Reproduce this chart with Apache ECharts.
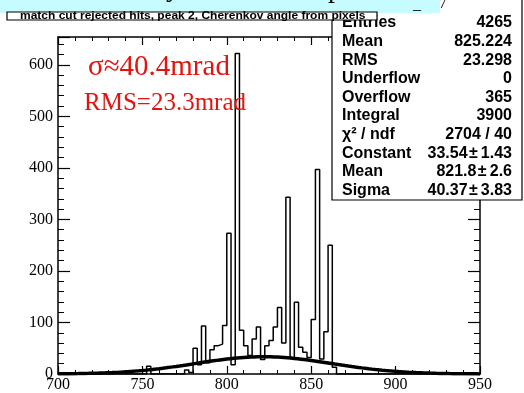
<!DOCTYPE html>
<html><head><meta charset="utf-8">
<script src="https://cdn.jsdelivr.net/npm/echarts@6/dist/echarts.min.js"></script>
<style>html,body{margin:0;padding:0;background:#fff}#c{width:524px;height:393px}</style>
</head><body><div id="c"></div>
<script>
// Histogram: lower edges of non-empty bins (bin width 2.5 mrad) and their counts
const binWidth = 2.5;
const binStarts = [752.5, 775, 777.5, 780, 782.5, 785, 787.5, 790, 792.5, 795, 797.5, 800, 802.5, 805, 807.5, 810, 812.5, 815, 817.5, 820, 822.5, 825, 827.5, 830, 832.5, 835, 837.5, 840, 842.5, 845, 847.5, 850, 852.5, 855, 857.5, 860, 862.5];
const counts    = [15,    8,   3,     50,  18,    93,  22,    47,  55,    58,  94,    273, 18,    622, 85,    55,  36,    68,  91,    28,  55,    65,  91,    129, 60,    343, 30,    139, 52,    42,  32,    106, 397,   29,  82,    250, 13];
// Axis ticks
const xTickLabels = [700, 750, 800, 850, 900, 950];
const yTickLabels = [0, 100, 200, 300, 400, 500, 600];
const yMax = 654;
// Gaussian fit parameters (from the stats box)
const fitConstant = 33.54, fitMean = 821.8, fitSigma = 40.37;
// Stats box
const statNames  = ['Entries', 'Mean', 'RMS', 'Underflow', 'Overflow', 'Integral', 'χ² / ndf', 'Constant', 'Mean', 'Sigma'];
const statValues = ['4265', '825.224', '23.298', '0', '365', '3900', '2704 / 40', '33.54\u200a±\u20091.43', '821.8\u200a±\u20092.6', '40.37\u200a±\u20093.83'];
const noteSigma = 'σ≈40.4mrad';
const noteRms = 'RMS=23.3mrad';
const subtitle = 'match cut rejected hits, peak 2, Cherenkov angle from pixels';

const xMin = xTickLabels[0], xMax = xTickLabels[xTickLabels.length - 1];
const nBins = Math.round((xMax - xMin) / binWidth);
const full = new Array(nBins).fill(0);
binStarts.forEach((s, i) => { full[Math.round((s - xMin) / binWidth)] = counts[i]; });
const histData = full.map((v, i) => [xMin + i * binWidth, v]);
histData.push([xMax, 0]);

const gaussData = [];
for (let x = xMin; x <= xMax; x += 1) {
  gaussData.push([x, fitConstant * Math.exp(-0.5 * Math.pow((x - fitMean) / fitSigma, 2))]);
}

const axisCommon = {
  type: 'value', min: xMin, max: xMax, interval: 50,
  axisLine: { onZero: false, lineStyle: { color: '#000', width: 1.5 } },
  axisTick: { inside: true, length: 8, lineStyle: { color: '#000', width: 1.2 } },
  minorTick: { show: true, splitNumber: 5, length: 4, lineStyle: { color: '#000', width: 1 } },
  splitLine: { show: false }, minorSplitLine: { show: false }
};
const yCommon = {
  type: 'value', min: 0, max: yMax, interval: 100,
  axisLine: { onZero: false, lineStyle: { color: '#000', width: 1.5 } },
  axisTick: { inside: true, length: 12, lineStyle: { color: '#000', width: 1.2 } },
  minorTick: { show: true, splitNumber: 5, length: 6, lineStyle: { color: '#000', width: 1 } },
  splitLine: { show: false }, minorSplitLine: { show: false }
};
const labelFont = { color: '#000', fontFamily: 'Liberation Serif', fontSize: 16 };

const graphics = [];
// title boxes
graphics.push({ type: 'rect', z: 100, shape: { x: 0, y: -2, width: 440, height: 15 }, style: { fill: '#c6fcff' } });
graphics.push({ type: 'text', z: 101, x: 166, y: 3, style: { text: 'y', font: '28px "Liberation Serif"', fill: '#000', textVerticalAlign: 'bottom' } });
graphics.push({ type: 'text', z: 101, x: 328, y: 4, style: { text: 'p', font: '28px "Liberation Serif"', fill: '#000', textVerticalAlign: 'bottom' } });
graphics.push({ type: 'text', z: 101, x: 413, y: 13, style: { text: '_', font: '16px "Liberation Serif"', fill: '#000', textVerticalAlign: 'bottom' } });
graphics.push({ type: 'text', z: 101, x: 439, y: 12, style: { text: '7', font: '15px "Liberation Serif"', fill: '#000', textVerticalAlign: 'bottom' } });
// stats box
graphics.push({ type: 'rect', z: 90, shape: { x: 332, y: -2, width: 190, height: 202 }, style: { fill: '#fff', stroke: '#000', lineWidth: 1.2 } });
statNames.forEach((n, i) => {
  const y = 23 + i * 18.6;
  graphics.push({ type: 'text', z: 91, x: 342, y: y, style: { text: n, font: 'bold 16px "Liberation Sans"', fill: '#000', textVerticalAlign: 'middle' } });
  graphics.push({ type: 'text', z: 91, x: 512, y: y, style: { text: statValues[i], font: 'bold 16px "Liberation Sans"', fill: '#000', textAlign: 'right', textVerticalAlign: 'middle' } });
});
// subtitle box
graphics.push({ type: 'rect', z: 102, shape: { x: 7, y: 12, width: 370, height: 8 }, style: { fill: '#fff', stroke: '#000', lineWidth: 1.2 } });
graphics.push({ type: 'text', z: 103, x: 20, y: 16.5, scaleX: 1.2, style: { text: subtitle, font: 'bold 10px "Liberation Sans"', fill: '#000', textVerticalAlign: 'middle' } });
// red notes
graphics.push({ type: 'text', z: 50, x: 88, y: 67, style: { text: noteSigma, font: '29px "Liberation Serif"', fill: '#e3130f', textVerticalAlign: 'middle' } });
graphics.push({ type: 'text', z: 50, x: 84, y: 103, style: { text: noteRms, font: '25px "Liberation Serif"', fill: '#e3130f', textVerticalAlign: 'middle' } });

const chart = echarts.init(document.getElementById('c'), null, { renderer: 'canvas' });
chart.setOption({
  animation: false,
  backgroundColor: '#fff',
  grid: { left: 58, right: 44, top: 37, bottom: 18, containLabel: false },
  xAxis: [
    Object.assign({}, axisCommon, { position: 'bottom', axisLabel: Object.assign({ margin: 3 }, labelFont) }),
    Object.assign({}, axisCommon, { position: 'top', axisLabel: { show: false } })
  ],
  yAxis: [
    Object.assign({}, yCommon, { position: 'left', axisLabel: Object.assign({ margin: 5, showMaxLabel: false,
      formatter: v => (yTickLabels.indexOf(v) >= 0 ? String(v) : '') }, labelFont) }),
    Object.assign({}, yCommon, { position: 'right', axisLabel: { show: false } })
  ],
  series: [
    { type: 'line', data: histData, step: 'end', symbol: 'none', lineStyle: { color: '#000', width: 1.5 }, z: 3, silent: true },
    { type: 'line', data: gaussData, symbol: 'none', lineStyle: { color: '#000', width: 3.5 }, z: 4, silent: true }
  ],
  graphic: graphics
});
</script></body></html>
